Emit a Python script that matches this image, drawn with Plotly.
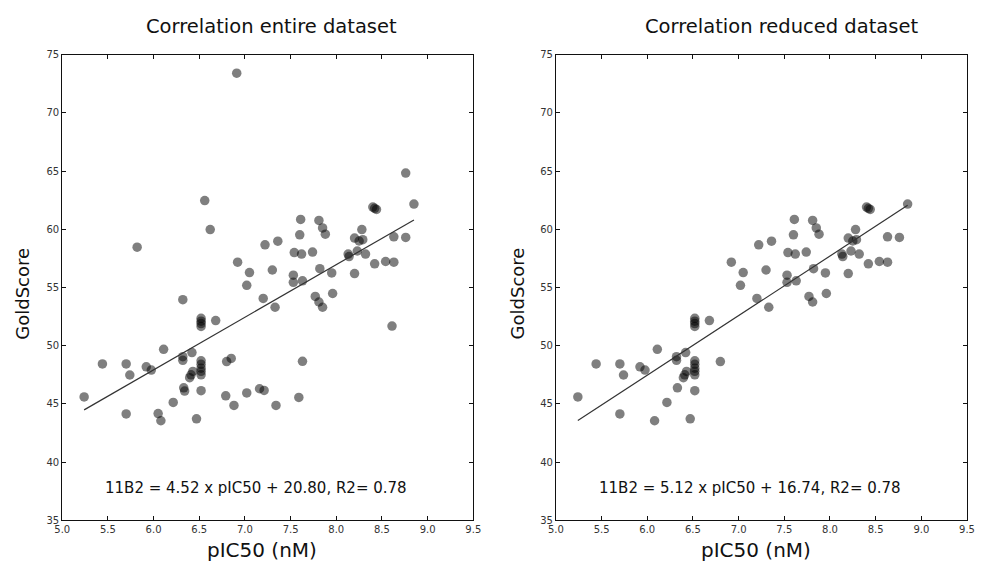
import plotly.graph_objects as go

# Entire dataset (pIC50 vs GoldScore)
pic50_all = [
    6.91, 6.56, 6.62, 5.82, 6.92, 7.05, 7.02, 8.76, 8.85, 8.40, 8.42, 8.44,
    7.61, 7.81, 7.85, 8.28, 7.88, 7.60, 8.63, 8.76, 8.20, 8.29, 8.25, 7.22,
    7.36, 7.54, 7.62, 7.74, 8.13, 8.14, 8.23, 8.32, 8.42, 8.54, 8.63, 7.82,
    7.95, 8.20, 7.30, 7.53, 7.53, 7.63, 6.32, 6.52, 6.52, 6.52, 6.52, 6.68,
    6.11, 6.42, 6.32, 6.32, 5.44, 5.70, 5.92, 5.975, 5.74, 6.52, 6.52, 6.52,
    6.52, 6.52, 6.80, 6.85, 6.43, 6.41, 6.395, 5.24, 6.33, 6.34, 6.52, 6.215,
    6.79, 7.02, 6.88, 5.70, 6.05, 6.08, 6.47, 7.20, 7.33, 7.77, 7.81, 7.85,
    7.96, 8.61, 7.63, 7.16, 7.21, 7.59, 7.34,
]
gold_all = [
    73.4, 62.46, 59.97, 58.46, 57.17, 56.28, 55.18, 64.82, 62.16, 61.9, 61.8, 61.7,
    60.84, 60.76, 60.11, 59.97, 59.58, 59.52, 59.35, 59.3, 59.24, 59.1, 58.99, 58.66,
    58.97, 58.0, 57.87, 58.04, 57.87, 57.65, 58.13, 57.87, 57.03, 57.23, 57.17, 56.61,
    56.25, 56.19, 56.5, 56.05, 55.44, 55.57, 53.95, 52.35, 52.1, 51.9, 51.65, 52.16,
    49.69, 49.41, 49.05, 48.74, 48.43, 48.43, 48.18, 47.9, 47.48, 48.7, 48.4, 48.07,
    47.8, 47.5, 48.63, 48.9, 47.79, 47.5, 47.25, 45.6, 46.38, 46.1, 46.13, 45.12,
    45.69, 45.94, 44.87, 44.14, 44.17, 43.55, 43.72, 54.06, 53.3, 54.23, 53.75, 53.3,
    54.48, 51.68, 48.66, 46.3, 46.16, 45.55, 44.87,
]

# Reduced dataset
pic50_red = [
    6.92, 7.05, 7.02, 8.85, 8.40, 8.42, 8.44,
    7.61, 7.81, 7.85, 8.28, 7.88, 7.60, 8.63, 8.76, 8.20, 8.29, 8.25, 7.22,
    7.36, 7.54, 7.62, 7.74, 8.13, 8.14, 8.23, 8.32, 8.42, 8.54, 8.63, 7.82,
    7.95, 8.20, 7.30, 7.53, 7.53, 7.63, 6.52, 6.52, 6.52, 6.52, 6.68,
    6.11, 6.42, 6.32, 6.32, 5.44, 5.70, 5.92, 5.975, 5.74, 6.52, 6.52, 6.52,
    6.52, 6.52, 6.80, 6.43, 6.41, 6.395, 5.24, 6.33, 6.52, 6.215,
    5.70, 6.08, 6.47, 7.20, 7.33, 7.77, 7.81, 7.96,
]
gold_red = [
    57.17, 56.28, 55.18, 62.16, 61.9, 61.8, 61.7,
    60.84, 60.76, 60.11, 59.97, 59.58, 59.52, 59.35, 59.3, 59.24, 59.1, 58.99, 58.66,
    58.97, 58.0, 57.87, 58.04, 57.87, 57.65, 58.13, 57.87, 57.03, 57.23, 57.17, 56.61,
    56.25, 56.19, 56.5, 56.05, 55.44, 55.57, 52.35, 52.1, 51.9, 51.65, 52.16,
    49.69, 49.41, 49.05, 48.74, 48.43, 48.43, 48.18, 47.9, 47.48, 48.7, 48.4, 48.07,
    47.8, 47.5, 48.63, 47.79, 47.5, 47.25, 45.6, 46.38, 46.13, 45.12,
    44.14, 43.55, 43.72, 54.06, 53.3, 54.23, 53.75, 54.48,
]

# Fit coefficients as printed on the chart
fits = [
    {"slope": 4.52, "intercept": 20.80, "r2": 0.78},
    {"slope": 5.12, "intercept": 16.74, "r2": 0.78},
]
titles = ["Correlation entire dataset", "Correlation reduced dataset"]
x_ticks = [5.0, 5.5, 6.0, 6.5, 7.0, 7.5, 8.0, 8.5, 9.0, 9.5]
y_ticks = [35, 40, 45, 50, 55, 60, 65, 70, 75]

FONT = "DejaVu Sans"
# page body keeps its default 8px margin, so the figure is sized to fit inside
PAD = 8
W, H = 984 - 2 * PAD, 571 - 2 * PAD


def px_x(p):
    return (p - PAD) / W


def px_y(p):
    return 1 - (p - PAD) / H


fig = go.Figure()

datasets = [(pic50_all, gold_all), (pic50_red, gold_red)]
domains = [(px_x(55), px_x(473)), (px_x(557), px_x(975))]
title_x = [268, 786]
xlabel_x = [258, 760]
ylabel_x = [15, 518]


def paper_text(x_px, y_px, text, size, angle=0):
    fig.add_annotation(
        x=px_x(x_px), y=px_y(y_px), xref="paper", yref="paper",
        xanchor="center", yanchor="middle", showarrow=False, textangle=angle,
        text=text, font={"family": FONT, "size": size, "color": "#111"},
    )


for i, (xs, ys) in enumerate(datasets):
    xa = "x" if i == 0 else "x2"
    ya = "y" if i == 0 else "y2"
    fig.add_trace(
        go.Scatter(
            x=xs, y=ys, mode="markers", xaxis=xa, yaxis=ya,
            marker={"color": "rgba(0,0,0,0.5)", "size": 9.5, "line": {"width": 0}},
            showlegend=False, hoverinfo="skip",
        )
    )
    f = fits[i]
    lx = [min(xs), max(xs)]
    ly = [f["slope"] * v + f["intercept"] for v in lx]
    fig.add_trace(
        go.Scatter(
            x=lx, y=ly, mode="lines", xaxis=xa, yaxis=ya,
            line={"color": "#333333", "width": 1.2},
            showlegend=False, hoverinfo="skip",
        )
    )
    fig.add_annotation(
        x=7.12, y=37.75, xref=xa, yref=ya, showarrow=False,
        xanchor="center", yanchor="middle",
        text=f"11B2 = {f['slope']:.2f} x pIC50 + {f['intercept']:.2f}, R2= {f['r2']:.2f}",
        font={"family": FONT, "size": 15, "color": "#111"},
    )
    paper_text(title_x[i], 21, titles[i], 19.5)
    paper_text(xlabel_x[i], 556, "pIC50 (nM)", 20)
    paper_text(ylabel_x[i], 294, "GoldScore", 18, angle=-90)

axis_common = dict(
    showgrid=False, zeroline=False, showline=True, linecolor="#111", linewidth=1,
    mirror="ticks", ticks="inside", ticklen=4, tickwidth=1, tickcolor="#111",
    tickfont={"family": FONT, "size": 10, "color": "#333"},
)
y_dom = (px_y(525.5), px_y(49.5))
for i in range(2):
    sx = "" if i == 0 else "2"
    fig.update_layout({
        f"xaxis{sx}": dict(
            axis_common, domain=domains[i], range=[5.0, 9.5], tickvals=x_ticks,
            ticktext=[f"{v:.1f}" for v in x_ticks], anchor=f"y{sx}",
        ),
        f"yaxis{sx}": dict(
            axis_common, domain=y_dom, range=[35, 75], tickvals=y_ticks,
            anchor=f"x{sx}",
        ),
    })

fig.update_layout(
    width=W, height=H, margin={"l": 0, "r": 0, "t": 0, "b": 0},
    plot_bgcolor="white", paper_bgcolor="white",
)

fig.write_html("out.html", config={"displayModeBar": False})
